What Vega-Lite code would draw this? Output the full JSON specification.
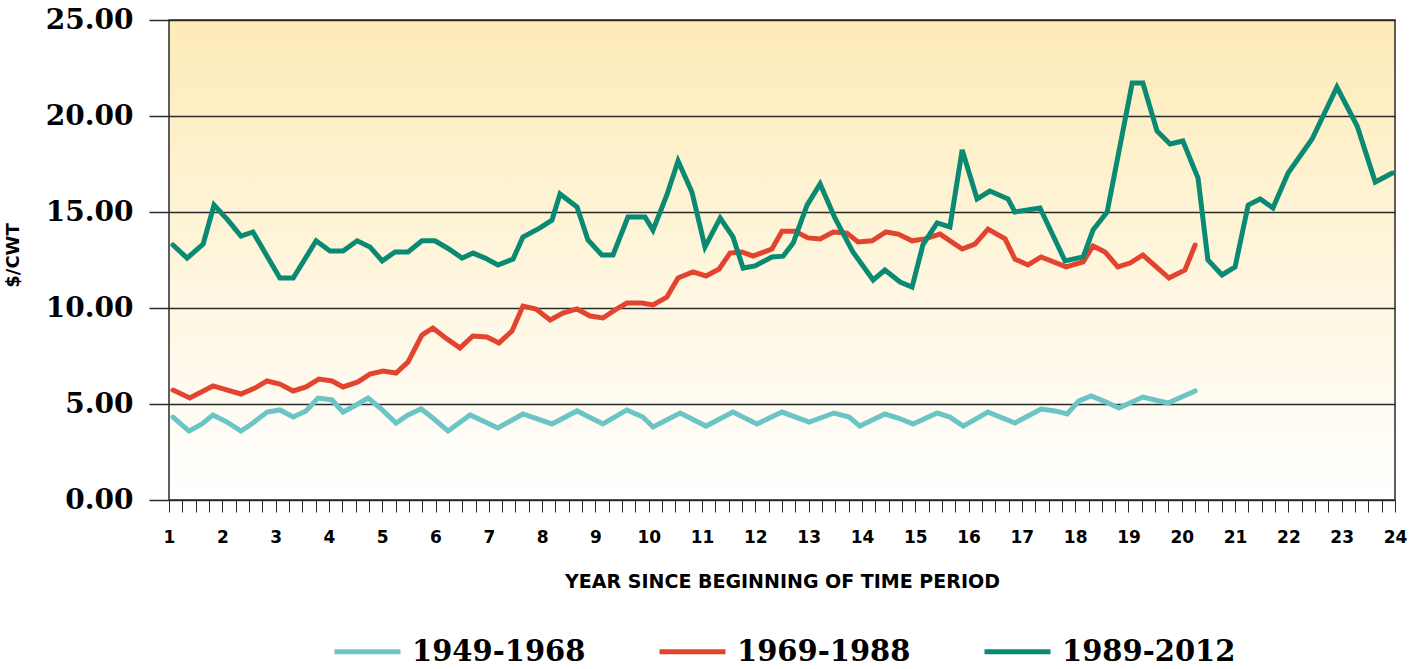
{
  "$schema": "https://vega.github.io/schema/vega-lite/v6.json",
  "width": 1226,
  "height": 480,
  "autosize": {"type": "none"},
  "padding": {"left": 169, "top": 20, "right": 29, "bottom": 169},
  "background": "#ffffff",
  "config": {
    "view": {
      "stroke": "#2a2a2a",
      "strokeWidth": 1.5,
      "fill": {"gradient": "linear", "x1": 0, "y1": 0, "x2": 0, "y2": 1, "stops": [{"offset": 0, "color": "#FDEBB8"}, {"offset": 1, "color": "#FFFFFF"}]}
    }
  },
  "data": {"values": [
    {"period":"1949-1968","year":1.075,"price":4.32},{"period":"1949-1968","year":1.375,"price":3.59},{"period":"1949-1968","year":1.62,"price":3.96},{"period":"1949-1968","year":1.825,"price":4.43},{"period":"1949-1968","year":2.09,"price":4.06},{"period":"1949-1968","year":2.35,"price":3.59},{"period":"1949-1968","year":2.575,"price":4.01},{"period":"1949-1968","year":2.84,"price":4.58},{"period":"1949-1968","year":3.08,"price":4.69},{"period":"1949-1968","year":3.33,"price":4.32},{"period":"1949-1968","year":3.57,"price":4.64},{"period":"1949-1968","year":3.795,"price":5.31},{"period":"1949-1968","year":4.06,"price":5.21},{"period":"1949-1968","year":4.265,"price":4.58},{"period":"1949-1968","year":4.51,"price":4.95},{"period":"1949-1968","year":4.735,"price":5.31},{"period":"1949-1968","year":5.0,"price":4.69},{"period":"1949-1968","year":5.26,"price":4.01},{"period":"1949-1968","year":5.485,"price":4.43},{"period":"1949-1968","year":5.73,"price":4.74},{"period":"1949-1968","year":5.95,"price":4.27},{"period":"1949-1968","year":6.235,"price":3.59},{"period":"1949-1968","year":6.44,"price":4.01},{"period":"1949-1968","year":6.65,"price":4.43},{"period":"1949-1968","year":7.17,"price":3.75},{"period":"1949-1968","year":7.64,"price":4.48},{"period":"1949-1968","year":8.185,"price":3.96},{"period":"1949-1968","year":8.655,"price":4.64},{"period":"1949-1968","year":9.14,"price":3.96},{"period":"1949-1968","year":9.59,"price":4.69},{"period":"1949-1968","year":9.89,"price":4.32},{"period":"1949-1968","year":10.08,"price":3.8},{"period":"1949-1968","year":10.59,"price":4.53},{"period":"1949-1968","year":11.075,"price":3.85},{"period":"1949-1968","year":11.58,"price":4.58},{"period":"1949-1968","year":12.03,"price":3.96},{"period":"1949-1968","year":12.5,"price":4.58},{"period":"1949-1968","year":13.01,"price":4.06},{"period":"1949-1968","year":13.475,"price":4.53},{"period":"1949-1968","year":13.76,"price":4.32},{"period":"1949-1968","year":13.96,"price":3.85},{"period":"1949-1968","year":14.43,"price":4.48},{"period":"1949-1968","year":14.68,"price":4.27},{"period":"1949-1968","year":14.96,"price":3.96},{"period":"1949-1968","year":15.41,"price":4.53},{"period":"1949-1968","year":15.65,"price":4.32},{"period":"1949-1968","year":15.9,"price":3.85},{"period":"1949-1968","year":16.365,"price":4.58},{"period":"1949-1968","year":16.87,"price":4.01},{"period":"1949-1968","year":17.36,"price":4.74},{"period":"1949-1968","year":17.62,"price":4.64},{"period":"1949-1968","year":17.85,"price":4.48},{"period":"1949-1968","year":18.07,"price":5.16},{"period":"1949-1968","year":18.3,"price":5.42},{"period":"1949-1968","year":18.58,"price":5.1},{"period":"1949-1968","year":18.82,"price":4.79},{"period":"1949-1968","year":19.27,"price":5.36},{"period":"1949-1968","year":19.74,"price":5.05},{"period":"1949-1968","year":20.25,"price":5.68},
    {"period":"1969-1988","year":1.075,"price":5.73},{"period":"1969-1988","year":1.39,"price":5.31},{"period":"1969-1988","year":1.825,"price":5.94},{"period":"1969-1988","year":2.35,"price":5.52},{"period":"1969-1988","year":2.61,"price":5.83},{"period":"1969-1988","year":2.84,"price":6.2},{"period":"1969-1988","year":3.08,"price":6.04},{"period":"1969-1988","year":3.33,"price":5.68},{"period":"1969-1988","year":3.57,"price":5.89},{"period":"1969-1988","year":3.81,"price":6.3},{"period":"1969-1988","year":4.06,"price":6.2},{"period":"1969-1988","year":4.265,"price":5.89},{"period":"1969-1988","year":4.545,"price":6.15},{"period":"1969-1988","year":4.77,"price":6.56},{"period":"1969-1988","year":5.015,"price":6.72},{"period":"1969-1988","year":5.26,"price":6.61},{"period":"1969-1988","year":5.485,"price":7.19},{"period":"1969-1988","year":5.745,"price":8.59},{"period":"1969-1988","year":5.95,"price":8.96},{"period":"1969-1988","year":6.215,"price":8.39},{"period":"1969-1988","year":6.46,"price":7.92},{"period":"1969-1988","year":6.7,"price":8.54},{"period":"1969-1988","year":6.965,"price":8.49},{"period":"1969-1988","year":7.19,"price":8.18},{"period":"1969-1988","year":7.435,"price":8.8},{"period":"1969-1988","year":7.64,"price":10.1},{"period":"1969-1988","year":7.885,"price":9.95},{"period":"1969-1988","year":8.15,"price":9.38},{"period":"1969-1988","year":8.39,"price":9.74},{"period":"1969-1988","year":8.655,"price":9.95},{"period":"1969-1988","year":8.9,"price":9.58},{"period":"1969-1988","year":9.14,"price":9.48},{"period":"1969-1988","year":9.37,"price":9.9},{"period":"1969-1988","year":9.59,"price":10.26},{"period":"1969-1988","year":9.87,"price":10.26},{"period":"1969-1988","year":10.08,"price":10.16},{"period":"1969-1988","year":10.34,"price":10.57},{"period":"1969-1988","year":10.55,"price":11.56},{"period":"1969-1988","year":10.83,"price":11.88},{"period":"1969-1988","year":11.075,"price":11.67},{"period":"1969-1988","year":11.32,"price":12.03},{"period":"1969-1988","year":11.525,"price":12.86},{"period":"1969-1988","year":11.75,"price":12.92},{"period":"1969-1988","year":11.955,"price":12.7},{"period":"1969-1988","year":12.31,"price":13.07},{"period":"1969-1988","year":12.5,"price":14.0},{"period":"1969-1988","year":12.745,"price":14.0},{"period":"1969-1988","year":12.99,"price":13.65},{"period":"1969-1988","year":13.215,"price":13.6},{"period":"1969-1988","year":13.46,"price":13.96},{"period":"1969-1988","year":13.72,"price":13.9},{"period":"1969-1988","year":13.925,"price":13.44},{"period":"1969-1988","year":14.19,"price":13.5},{"period":"1969-1988","year":14.45,"price":13.96},{"period":"1969-1988","year":14.68,"price":13.85},{"period":"1969-1988","year":14.94,"price":13.5},{"period":"1969-1988","year":15.18,"price":13.6},{"period":"1969-1988","year":15.465,"price":13.85},{"period":"1969-1988","year":15.88,"price":13.07},{"period":"1969-1988","year":16.12,"price":13.33},{"period":"1969-1988","year":16.365,"price":14.11},{"period":"1969-1988","year":16.685,"price":13.6},{"period":"1969-1988","year":16.87,"price":12.55},{"period":"1969-1988","year":17.115,"price":12.24},{"period":"1969-1988","year":17.36,"price":12.66},{"period":"1969-1988","year":17.83,"price":12.14},{"period":"1969-1988","year":18.15,"price":12.4},{"period":"1969-1988","year":18.335,"price":13.23},{"period":"1969-1988","year":18.56,"price":12.92},{"period":"1969-1988","year":18.8,"price":12.14},{"period":"1969-1988","year":19.03,"price":12.34},{"period":"1969-1988","year":19.27,"price":12.76},{"period":"1969-1988","year":19.76,"price":11.56},{"period":"1969-1988","year":20.06,"price":11.98},{"period":"1969-1988","year":20.25,"price":13.28},
    {"period":"1989-2012","year":1.075,"price":13.28},{"period":"1989-2012","year":1.34,"price":12.6},{"period":"1989-2012","year":1.64,"price":13.33},{"period":"1989-2012","year":1.845,"price":15.36},{"period":"1989-2012","year":2.105,"price":14.58},{"period":"1989-2012","year":2.35,"price":13.75},{"period":"1989-2012","year":2.575,"price":13.96},{"period":"1989-2012","year":3.08,"price":11.56},{"period":"1989-2012","year":3.33,"price":11.56},{"period":"1989-2012","year":3.76,"price":13.5},{"period":"1989-2012","year":4.02,"price":12.97},{"period":"1989-2012","year":4.265,"price":12.97},{"period":"1989-2012","year":4.53,"price":13.5},{"period":"1989-2012","year":4.77,"price":13.18},{"period":"1989-2012","year":5.0,"price":12.45},{"period":"1989-2012","year":5.24,"price":12.92},{"period":"1989-2012","year":5.485,"price":12.92},{"period":"1989-2012","year":5.745,"price":13.5},{"period":"1989-2012","year":5.99,"price":13.5},{"period":"1989-2012","year":6.235,"price":13.1},{"period":"1989-2012","year":6.5,"price":12.6},{"period":"1989-2012","year":6.705,"price":12.86},{"period":"1989-2012","year":6.93,"price":12.6},{"period":"1989-2012","year":7.17,"price":12.24},{"period":"1989-2012","year":7.455,"price":12.55},{"period":"1989-2012","year":7.64,"price":13.7},{"period":"1989-2012","year":7.96,"price":14.17},{"period":"1989-2012","year":8.185,"price":14.58},{"period":"1989-2012","year":8.335,"price":15.94},{"period":"1989-2012","year":8.655,"price":15.26},{"period":"1989-2012","year":8.86,"price":13.54},{"period":"1989-2012","year":9.12,"price":12.76},{"period":"1989-2012","year":9.33,"price":12.76},{"period":"1989-2012","year":9.61,"price":14.74},{"period":"1989-2012","year":9.93,"price":14.74},{"period":"1989-2012","year":10.08,"price":14.06},{"period":"1989-2012","year":10.34,"price":15.89},{"period":"1989-2012","year":10.55,"price":17.66},{"period":"1989-2012","year":10.81,"price":16.04},{"period":"1989-2012","year":11.055,"price":13.18},{"period":"1989-2012","year":11.34,"price":14.68},{"period":"1989-2012","year":11.58,"price":13.7},{"period":"1989-2012","year":11.77,"price":12.08},{"period":"1989-2012","year":11.995,"price":12.19},{"period":"1989-2012","year":12.31,"price":12.66},{"period":"1989-2012","year":12.52,"price":12.7},{"period":"1989-2012","year":12.71,"price":13.38},{"period":"1989-2012","year":12.97,"price":15.36},{"period":"1989-2012","year":13.215,"price":16.46},{"period":"1989-2012","year":13.495,"price":14.68},{"period":"1989-2012","year":13.83,"price":12.92},{"period":"1989-2012","year":14.21,"price":11.46},{"period":"1989-2012","year":14.43,"price":11.98},{"period":"1989-2012","year":14.715,"price":11.35},{"period":"1989-2012","year":14.94,"price":11.09},{"period":"1989-2012","year":15.145,"price":13.3},{"period":"1989-2012","year":15.41,"price":14.43},{"period":"1989-2012","year":15.65,"price":14.22},{"period":"1989-2012","year":15.88,"price":18.23},{"period":"1989-2012","year":16.16,"price":15.68},{"period":"1989-2012","year":16.4,"price":16.09},{"period":"1989-2012","year":16.74,"price":15.68},{"period":"1989-2012","year":16.87,"price":15.0},{"period":"1989-2012","year":17.34,"price":15.21},{"period":"1989-2012","year":17.81,"price":12.45},{"period":"1989-2012","year":18.15,"price":12.66},{"period":"1989-2012","year":18.335,"price":14.06},{"period":"1989-2012","year":18.6,"price":15.0},{"period":"1989-2012","year":19.07,"price":21.72},{"period":"1989-2012","year":19.27,"price":21.72},{"period":"1989-2012","year":19.535,"price":19.22},{"period":"1989-2012","year":19.78,"price":18.54},{"period":"1989-2012","year":20.02,"price":18.7},{"period":"1989-2012","year":20.305,"price":16.77},{"period":"1989-2012","year":20.49,"price":12.5},{"period":"1989-2012","year":20.755,"price":11.72},{"period":"1989-2012","year":21.0,"price":12.14},{"period":"1989-2012","year":21.245,"price":15.36},{"period":"1989-2012","year":21.47,"price":15.68},{"period":"1989-2012","year":21.71,"price":15.21},{"period":"1989-2012","year":21.995,"price":17.03},{"period":"1989-2012","year":22.445,"price":18.8},{"period":"1989-2012","year":22.91,"price":21.5},{"period":"1989-2012","year":23.29,"price":19.48},{"period":"1989-2012","year":23.63,"price":16.56},{"period":"1989-2012","year":23.95,"price":17.03}
  ]},
  "mark": {"type": "line", "strokeWidth": 5, "strokeCap": "round", "strokeJoin": "miter"},
  "encoding": {
    "x": {
      "field": "year", "type": "quantitative",
      "scale": {"domain": [1, 24], "nice": false, "zero": false},
      "axis": {
        "title": "YEAR SINCE BEGINNING OF TIME PERIOD",
        "values": [1,1.25,1.5,1.75,2,2.25,2.5,2.75,3,3.25,3.5,3.75,4,4.25,4.5,4.75,5,5.25,5.5,5.75,6,6.25,6.5,6.75,7,7.25,7.5,7.75,8,8.25,8.5,8.75,9,9.25,9.5,9.75,10,10.25,10.5,10.75,11,11.25,11.5,11.75,12,12.25,12.5,12.75,13,13.25,13.5,13.75,14,14.25,14.5,14.75,15,15.25,15.5,15.75,16,16.25,16.5,16.75,17,17.25,17.5,17.75,18,18.25,18.5,18.75,19,19.25,19.5,19.75,20,20.25,20.5,20.75,21,21.25,21.5,21.75,22,22.25,22.5,22.75,23,23.25,23.5,23.75,24],
        "labelExpr": "datum.value % 1 === 0 ? format(datum.value, 'd') : ''",
        "labelOverlap": false,
        "labelBound": false,
        "labelFlush": false,
        "grid": false,
        "domain": false,
        "tickSize": 12,
        "tickColor": "#2a2a2a",
        "tickWidth": 1,
        "labelFont": "DejaVu Sans",
        "labelFontWeight": "bold",
        "labelFontSize": 17,
        "labelColor": "#000000",
        "labelBaseline": "middle",
        "labelPadding": 25,
        "titleFont": "DejaVu Sans",
        "titleFontWeight": "bold",
        "titleFontSize": 19,
        "titleColor": "#000000",
        "titleBaseline": "middle",
        "titleY": 81
      }
    },
    "y": {
      "field": "price", "type": "quantitative",
      "scale": {"domain": [0, 25], "nice": false},
      "axis": {
        "title": "$/CWT",
        "values": [0, 5, 10, 15, 20, 25],
        "format": ".2f",
        "grid": true,
        "gridColor": "#2a2a2a",
        "gridWidth": 1.5,
        "gridOpacity": 1,
        "domain": false,
        "tickSize": 20,
        "tickColor": "#2a2a2a",
        "tickWidth": 1.5,
        "labelFont": "DejaVu Serif",
        "labelFontWeight": "bold",
        "labelFontSize": 28,
        "labelColor": "#000000",
        "labelBaseline": "middle",
        "labelPadding": 16,
        "titleFont": "DejaVu Sans",
        "titleFontWeight": "bold",
        "titleFontSize": 18,
        "titleColor": "#000000",
        "titleBaseline": "middle",
        "titleX": -156,
        "titleY": 235
      }
    },
    "color": {
      "field": "period", "type": "nominal",
      "scale": {"domain": ["1949-1968", "1969-1988", "1989-2012"], "range": ["#6BC4C5", "#E2452F", "#0A8A72"]},
      "legend": {
        "title": null,
        "orient": "none",
        "direction": "horizontal",
        "legendX": 163,
        "legendY": 596,
        "symbolType": "stroke",
        "symbolSize": 4356,
        "symbolStrokeWidth": 5,
        "labelFont": "DejaVu Serif",
        "labelFontWeight": "bold",
        "labelFontSize": 29,
        "labelColor": "#000000",
        "labelOffset": 9,
        "columnPadding": 63,
        "padding": 0,
        "labelLimit": 400
      }
    }
  }
}
